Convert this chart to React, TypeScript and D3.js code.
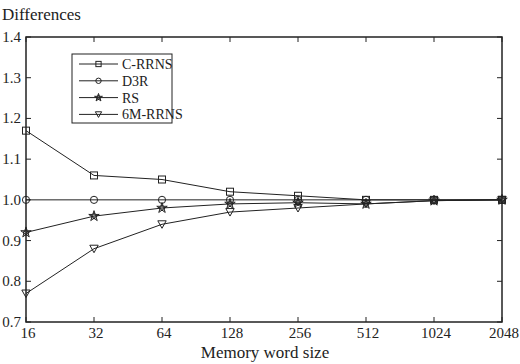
import { useRef, useEffect } from 'react';
import * as d3 from 'd3';

const sizes = ['16', '32', '64', '128', '256', '512', '1024', '2048'];
const cRrns = [1.17, 1.06, 1.05, 1.02, 1.01, 1.0, 1.0, 1.0];
const d3r = [1.0, 1.0, 1.0, 1.0, 1.0, 1.0, 1.0, 1.0];
const rs = [0.92, 0.96, 0.98, 0.99, 0.993, 0.99, 0.998, 1.0];
const m6Rrns = [0.77, 0.88, 0.94, 0.97, 0.98, 0.99, 0.998, 1.0];
const yTicks = [0.7, 0.8, 0.9, 1.0, 1.1, 1.2, 1.3, 1.4];

const series = [
  { name: 'C-RRNS', values: cRrns, marker: 'square' },
  { name: 'D3R', values: d3r, marker: 'circle' },
  { name: 'RS', values: rs, marker: 'star' },
  { name: '6M-RRNS', values: m6Rrns, marker: 'triangle' },
];

const width = 520;
const height = 364;
const font = '"Liberation Serif", "Times New Roman", serif';

function drawMarker(
  g: d3.Selection<SVGGElement, unknown, null, undefined>,
  kind: string,
  cx: number,
  cy: number,
  k = 1
) {
  const common = (s: any) => s.attr('fill', 'none').attr('stroke', '#222').attr('stroke-width', 1);
  if (kind === 'square') {
    const h = 3.5 * k;
    common(g.append('rect').attr('x', cx - h).attr('y', cy - h).attr('width', 2 * h).attr('height', 2 * h));
  } else if (kind === 'circle') {
    common(g.append('circle').attr('cx', cx).attr('cy', cy).attr('r', 3.6 * k));
  } else if (kind === 'star') {
    const p = d3.symbol().type(d3.symbolStar).size(34 * k * k)();
    common(g.append('path').attr('d', p).attr('transform', `translate(${cx},${cy})`));
    common(
      g
        .append('path')
        .attr('d', d3.symbol().type(d3.symbolCross).size(14 * k * k)())
        .attr('transform', `translate(${cx},${cy})`)
    );
  } else {
    const w = 4.2 * k;
    common(g.append('path').attr('d', `M${cx - w},${cy - 3.5 * k}L${cx + w},${cy - 3.5 * k}L${cx},${cy + 4 * k}Z`));
  }
}

export default function App() {
  const svgRef = useRef<SVGSVGElement>(null);

  useEffect(() => {
    if (!svgRef.current) return;
    const svg = d3.select(svgRef.current);
    svg.selectAll('*').remove();

    const margin = { top: 37, right: 18, bottom: 42, left: 26 };
    const innerWidth = width - margin.left - margin.right;
    const innerHeight = height - margin.top - margin.bottom;

    const x = d3.scalePoint().domain(sizes).range([0, innerWidth]);
    const y = d3.scaleLinear().domain([0.7, 1.4]).range([innerHeight, 0]);

    const g = svg.append('g').attr('transform', `translate(${margin.left},${margin.top})`);

    g.append('rect')
      .attr('width', innerWidth)
      .attr('height', innerHeight)
      .attr('fill', 'white')
      .attr('stroke', '#222')
      .attr('stroke-width', 1.5);

    // Inward ticks, all four sides
    const tickLen = 5;
    sizes.forEach((s) => {
      const px = x(s)!;
      g.append('line').attr('x1', px).attr('x2', px).attr('y1', innerHeight).attr('y2', innerHeight - tickLen).attr('stroke', '#222');
      g.append('line').attr('x1', px).attr('x2', px).attr('y1', 0).attr('y2', tickLen).attr('stroke', '#222');
      g.append('text')
        .attr('x', px + 2)
        .attr('y', innerHeight + 16)
        .attr('text-anchor', 'middle')
        .attr('font-family', font)
        .attr('font-size', 15)
        .attr('fill', '#222')
        .text(s);
    });
    yTicks.forEach((v) => {
      const py = y(v);
      g.append('line').attr('x1', 0).attr('x2', tickLen).attr('y1', py).attr('y2', py).attr('stroke', '#222');
      g.append('line').attr('x1', innerWidth).attr('x2', innerWidth - tickLen).attr('y1', py).attr('y2', py).attr('stroke', '#222');
      g.append('text')
        .attr('x', -5)
        .attr('y', py + 5)
        .attr('text-anchor', 'end')
        .attr('font-family', font)
        .attr('font-size', 15)
        .attr('fill', '#222')
        .text(v.toFixed(1));
    });

    const line = d3
      .line<number>()
      .x((_, i) => x(sizes[i])!)
      .y((d) => y(d));

    series.forEach((s) => {
      g.append('path')
        .attr('d', line(s.values))
        .attr('fill', 'none')
        .attr('stroke', '#222')
        .attr('stroke-width', 1);
      const mg = g.append('g');
      s.values.forEach((v, i) => drawMarker(mg, s.marker, x(sizes[i])!, y(v)));
    });

    // Legend
    const lg = g.append('g').attr('transform', `translate(${72 - margin.left},${54 - margin.top})`);
    lg.append('rect')
      .attr('width', 100)
      .attr('height', 69)
      .attr('fill', 'white')
      .attr('stroke', '#222')
      .attr('stroke-width', 1);
    series.forEach((s, i) => {
      const ly = 10 + i * 16.8;
      lg.append('line').attr('x1', 7).attr('x2', 46).attr('y1', ly).attr('y2', ly).attr('stroke', '#222');
      const mg = lg.append('g');
      drawMarker(mg, s.marker, 26.5, ly, 0.75);
      lg.append('text')
        .attr('x', 50)
        .attr('y', ly + 5)
        .attr('font-family', font)
        .attr('font-size', 14)
        .attr('fill', '#222')
        .text(s.name);
    });

    // Titles
    svg.append('text')
      .attr('x', 2)
      .attr('y', 20)
      .attr('font-family', font)
      .attr('font-size', 17)
      .attr('fill', '#222')
      .text('Differences');
    svg.append('text')
      .attr('x', 265)
      .attr('y', height - 6)
      .attr('text-anchor', 'middle')
      .attr('font-family', font)
      .attr('font-size', 17)
      .attr('fill', '#222')
      .text('Memory word size');
  }, []);

  return (
    <svg
      ref={svgRef}
      width={width}
      height={height}
      viewBox={`0 0 ${width} ${height}`}
      style={{ position: 'absolute', left: 0, top: 0, background: 'white' }}
    />
  );
}
